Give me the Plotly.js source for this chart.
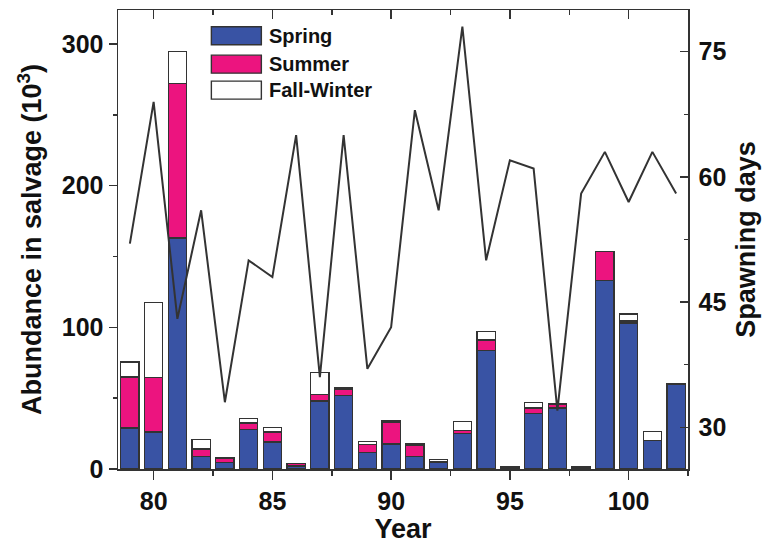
<!DOCTYPE html>
<html>
<head>
<meta charset="utf-8">
<script src="https://cdn.plot.ly/plotly-3.0.1.min.js"></script>
<style>html,body{margin:0;padding:0;background:#fff;}#chart{width:767px;height:544px;}</style>
</head>
<body>
<div id="chart"></div>
<script>
// ---- data ----
const years = [79,80,81,82,83,84,85,86,87,88,89,90,91,92,93,94,95,96,97,98,99,100,101,102];
const spring = [29,26,163,9,4.7,28,19,2,48,52,11.5,17.7,8.7,4.7,25,83.5,0,39,43,1.5,133,103,20,60];
const summer = [36,38.5,109,5,2.6,4.5,7,1.7,4.5,4.5,6,15.5,8.3,0.5,2,7.5,0,4,3,0,20.7,1.6,0,0];
const fallWinter = [10.5,53,22.5,7,0.5,3,3.3,0.3,15.5,0.7,2,0.7,0.7,1.5,6.7,6,1.5,4,0.3,0,0,4.8,6.5,0];
const spawningDays = [52,69,43,56,33,50,48,65,36,65,37,42,68,56,78,50,62,61,32,58,63,57,63,58];
const seriesNames = ["Spring","Summer","Fall-Winter"];
const seriesColors = ["#3953A4","#EC147F","#FFFFFF"];
const xTickVals = [80,85,90,95,100];
const yTickVals = [0,100,200,300];
const y2TickVals = [30,45,60,75];

const outline = "#333333";
const font = {family: "Liberation Sans, Arial, sans-serif", color: "#111", weight: "bold"};
const seriesValues = [spring, summer, fallWinter];

const traces = seriesValues.map((vals, i) => ({
  type: "bar", x: years, y: vals, name: seriesNames[i],
  marker: {color: seriesColors[i], line: {color: outline, width: 1.4}},
  width: 0.77, showlegend: false, hoverinfo: "x+y+name"
}));
traces.push({
  type: "scatter", mode: "lines", x: years, y: spawningDays, name: "Spawning days",
  xaxis: "x2", yaxis: "y2", line: {color: "#333333", width: 2}, showlegend: false
});

const axisCommon = {showline: true, linecolor: outline, linewidth: 1.5, tickcolor: outline, tickwidth: 1.5,
  zeroline: false, showgrid: false, tickfont: Object.assign({size: 25}, font)};

// custom legend (swatches + text) in paper coordinates
const shapes = [], annotations = [];
const legY = [0.9439, 0.8820, 0.8254];
seriesNames.forEach((n, i) => {
  shapes.push({type: "rect", xref: "paper", yref: "paper", x0: 0.1638, x1: 0.2515,
    y0: legY[i] - 0.0196, y1: legY[i] + 0.0196, fillcolor: seriesColors[i], line: {color: outline, width: 1.4}});
  annotations.push({xref: "paper", yref: "paper", x: 0.2610, y: legY[i], xanchor: "left", yanchor: "middle",
    text: n, showarrow: false, font: Object.assign({size: 20}, font)});
});

const layout = {
  width: 767, height: 544,
  margin: {l: 118, r: 79, t: 10, b: 75},
  paper_bgcolor: "#fff", plot_bgcolor: "#fff",
  barmode: "stack",
  showlegend: false,
  xaxis: Object.assign({}, axisCommon, {
    range: [78.5, 102.5], tickvals: xTickVals, ticks: "outside", ticklen: 9,
    minor: {dtick: 2.5, tick0: 77.5, ticks: "outside", ticklen: 5, tickcolor: outline, tickwidth: 1.5},
    title: {text: "Year", font: Object.assign({size: 27}, font), standoff: 6}
  }),
  xaxis2: Object.assign({}, axisCommon, {
    overlaying: "x", side: "top", anchor: "y2", range: [78.5, 102.5], tickvals: xTickVals,
    ticks: "inside", ticklen: 9, showticklabels: false,
    minor: {dtick: 2.5, tick0: 77.5, ticks: "inside", ticklen: 5, tickcolor: outline, tickwidth: 1.5}
  }),
  yaxis: Object.assign({}, axisCommon, {
    range: [0, 324], tickvals: yTickVals, ticks: "outside", ticklen: 8,
    minor: {dtick: 50, tick0: 0, ticks: "outside", ticklen: 4, tickcolor: outline, tickwidth: 1.5},
    title: {text: "Abundance in salvage (10<sup>3</sup>)", font: Object.assign({size: 27}, font), standoff: 12}
  }),
  yaxis2: Object.assign({}, axisCommon, {
    overlaying: "y", side: "right", anchor: "x2", range: [25, 80], tickvals: y2TickVals,
    ticks: "inside", ticklen: 8, ticklabelstandoff: 4,
    minor: {dtick: 7.5, tick0: 30, ticks: "inside", ticklen: 4, tickcolor: outline, tickwidth: 1.5},
    title: {text: "Spawning days", font: Object.assign({size: 27}, font), standoff: 10}
  }),
  shapes: shapes,
  annotations: annotations
};

Plotly.newPlot("chart", traces, layout, {displayModeBar: false, staticPlot: true});
</script>
</body>
</html>
